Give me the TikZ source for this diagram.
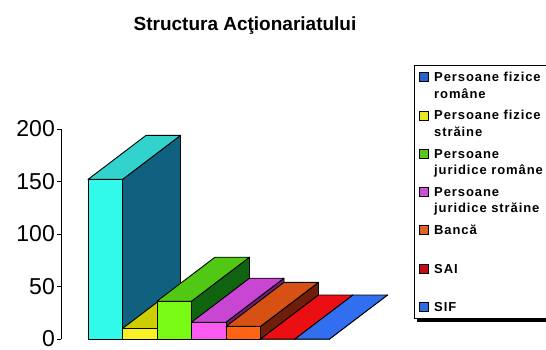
\documentclass[tikz,border=0pt]{standalone}
\usepackage{fontspec}
\setmainfont{Liberation Sans}
\newfontfamily\legfont[LetterSpace=7]{Liberation Sans}
\definecolor{cyanF}{RGB}{50,250,235}
\definecolor{cyanT}{RGB}{50,210,205}
\definecolor{cyanS}{RGB}{16,96,128}
\definecolor{yelF}{RGB}{250,240,40}
\definecolor{yelT}{RGB}{205,205,0}
\definecolor{yelS}{RGB}{120,120,0}
\definecolor{grnF}{RGB}{120,250,20}
\definecolor{grnT}{RGB}{80,200,20}
\definecolor{grnS}{RGB}{16,100,16}
\definecolor{magF}{RGB}{250,90,240}
\definecolor{magT}{RGB}{200,70,210}
\definecolor{magS}{RGB}{110,30,120}
\definecolor{orgF}{RGB}{255,100,20}
\definecolor{orgT}{RGB}{215,80,20}
\definecolor{orgS}{RGB}{110,30,10}
\definecolor{redF}{RGB}{240,20,20}
\definecolor{redT}{RGB}{235,15,20}
\definecolor{redS}{RGB}{120,10,10}
\definecolor{bluF}{RGB}{50,110,240}
\definecolor{bluT}{RGB}{50,110,240}
\definecolor{bluS}{RGB}{20,50,120}
\definecolor{legBlue}{RGB}{40,100,200}
\definecolor{legYel}{RGB}{230,230,40}
\definecolor{legGrn}{RGB}{90,200,30}
\definecolor{legMag}{RGB}{200,80,210}
\definecolor{legOrg}{RGB}{220,100,40}
\definecolor{legRed}{RGB}{200,10,20}
\definecolor{legSif}{RGB}{40,110,220}
\begin{document}
\begin{tikzpicture}[x=1pt,y=1pt,
    barline/.style={draw=black,line width=0.9pt,line join=round},
    legtext/.style={anchor=base west,inner sep=0pt,font=\legfont\bfseries\fontsize{13}{15}\selectfont},
    legsq/.style={draw=black,line width=0.6pt,minimum size=9pt,inner sep=0pt}]
    \useasboundingbox (0,0) rectangle (546,349);
    \node(title)[anchor=base,font=\bfseries\fontsize{19}{22}\selectfont] at (245,319){Structura Acţionariatului};
    % value axis
    \coordinate(ax0) at (61,10);
    \coordinate(ax1) at (61,220);
    \draw[line width=0.9pt] (ax0) -- (ax1);
    \foreach \v in {0,50,100,150,200}{
        \coordinate(tk\v) at (57,10+1.05*\v);
        \draw[line width=0.9pt] (tk\v) -- (61,10+1.05*\v);
        \node(lab\v)[anchor=east,inner sep=0pt,font=\fontsize{23}{24}\selectfont] at (55,10+1.05*\v){\v};
    }
    % bars
    \foreach \val/\col [count=\i from 0] in {152/cyan,10/yel,36/grn,16/mag,12/org,0/red,0/blu}{
        \pgfmathsetmacro{\xa}{88+34.5*\i}
        \pgfmathsetmacro{\xb}{\xa+34.5}
        \pgfmathsetmacro{\yt}{10+1.05*\val}
        \draw[barline,fill=\col S] (\xb,10) -- (\xb+58,54) -- (\xb+58,\yt+44) -- (\xb,\yt) -- cycle;
        \draw[barline,fill=\col T] (\xa,\yt) -- (\xb,\yt) -- (\xb+58,\yt+44) -- (\xa+58,\yt+44) -- cycle;
        \draw[barline,fill=\col F] (\xa,10) rectangle (\xb,\yt);
    }
    % legend
    \fill (417,27) rectangle (560,31);
    \draw[line width=0.9pt] (414,31) rectangle (560,284);
    \foreach \txt/\col [count=\k from 0] in {Persoane fizice/legBlue,Persoane fizice/legYel,Persoane/legGrn,Persoane/legMag,Bancă/legOrg,SAI/legRed,SIF/legSif}{
        \node(sq\k)[legsq,fill=\col] at (424,272-38.3*\k){};
        \node(ent\k)[legtext] at (434,267.5-38.3*\k){\txt};
    }
    \node(ent0b)[legtext] at (434,251){române};
    \node(ent1b)[legtext] at (434,212.7){străine};
    \node(ent2b)[legtext] at (434,174.4){juridice române};
    \node(ent3b)[legtext] at (434,136.1){juridice străine};
\end{tikzpicture}
\end{document}
